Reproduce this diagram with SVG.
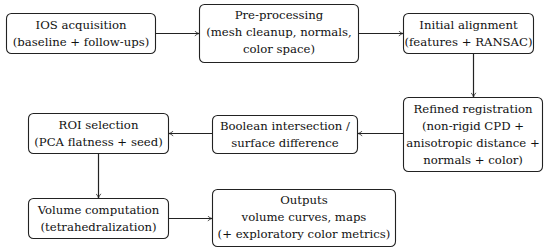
<svg xmlns="http://www.w3.org/2000/svg" width="550" height="250" viewBox="0 0 550 250">
<style>
.box{fill:#fff;stroke:#222;stroke-width:1.1}
text{font-family:'DejaVu Serif',serif;font-size:11.7px;fill:#111;text-anchor:middle}
.edge{fill:none;stroke:#222;stroke-width:1.2}
</style>
<defs>
<marker id="arr" viewBox="0 0 10 10" refX="9" refY="5" markerWidth="6" markerHeight="6" orient="auto" markerUnits="userSpaceOnUse">
<path d="M2,1 Q6,4.5 9,5 Q6,5.5 2,9" fill="none" stroke="#222" stroke-width="1.3"/>
</marker>
</defs>
<rect width="550" height="250" fill="#fff"/>
<g id="n1"><rect class="box" x="6.5" y="13.5" width="149" height="40" rx="5"/><text x="81" y="29">IOS acquisition</text><text x="81" y="46">(baseline + follow-ups)</text></g>
<g id="n2"><rect class="box" x="199.5" y="4.5" width="159" height="58" rx="5"/><text x="279" y="19">Pre-processing</text><text x="279" y="36">(mesh cleanup, normals,</text><text x="279" y="53">color space)</text></g>
<g id="n3"><rect class="box" x="403.5" y="13.5" width="130" height="40" rx="5"/><text x="468.5" y="29">Initial alignment</text><text x="468.5" y="46">(features + RANSAC)</text></g>
<g id="n4"><rect class="box" x="403.5" y="97.5" width="139" height="74" rx="5"/><text x="473" y="113">Refined registration</text><text x="473" y="130">(non-rigid CPD +</text><text x="473" y="147">anisotropic distance +</text><text x="473" y="164">normals + color)</text></g>
<g id="n5"><rect class="box" x="212.5" y="115.5" width="145" height="38" rx="5"/><text x="285" y="130">Boolean intersection /</text><text x="285" y="147">surface difference</text></g>
<g id="n6"><rect class="box" x="28.5" y="113.5" width="140" height="40" rx="5"/><text x="98.5" y="129">ROI selection</text><text x="98.5" y="146">(PCA flatness + seed)</text></g>
<g id="n7"><rect class="box" x="28.5" y="198.5" width="140" height="40" rx="5"/><text x="98.5" y="214">Volume computation</text><text x="98.5" y="231">(tetrahedralization)</text></g>
<g id="n8"><rect class="box" x="212.5" y="189.5" width="183" height="57" rx="5"/><text x="304" y="204">Outputs</text><text x="304" y="221">volume curves, maps</text><text x="304" y="238">(+ exploratory color metrics)</text></g>
<g id="edges">
<line class="edge" x1="155.5" y1="33.5" x2="199" y2="33.5" marker-end="url(#arr)"/>
<line class="edge" x1="358.5" y1="33.5" x2="403" y2="33.5" marker-end="url(#arr)"/>
<line class="edge" x1="473.5" y1="53.5" x2="473.5" y2="97" marker-end="url(#arr)"/>
<line class="edge" x1="403.5" y1="133.5" x2="358" y2="133.5" marker-end="url(#arr)"/>
<line class="edge" x1="212.5" y1="133.5" x2="169" y2="133.5" marker-end="url(#arr)"/>
<line class="edge" x1="98.5" y1="153.5" x2="98.5" y2="198" marker-end="url(#arr)"/>
<line class="edge" x1="168.5" y1="218.5" x2="212" y2="218.5" marker-end="url(#arr)"/>
</g>
</svg>
